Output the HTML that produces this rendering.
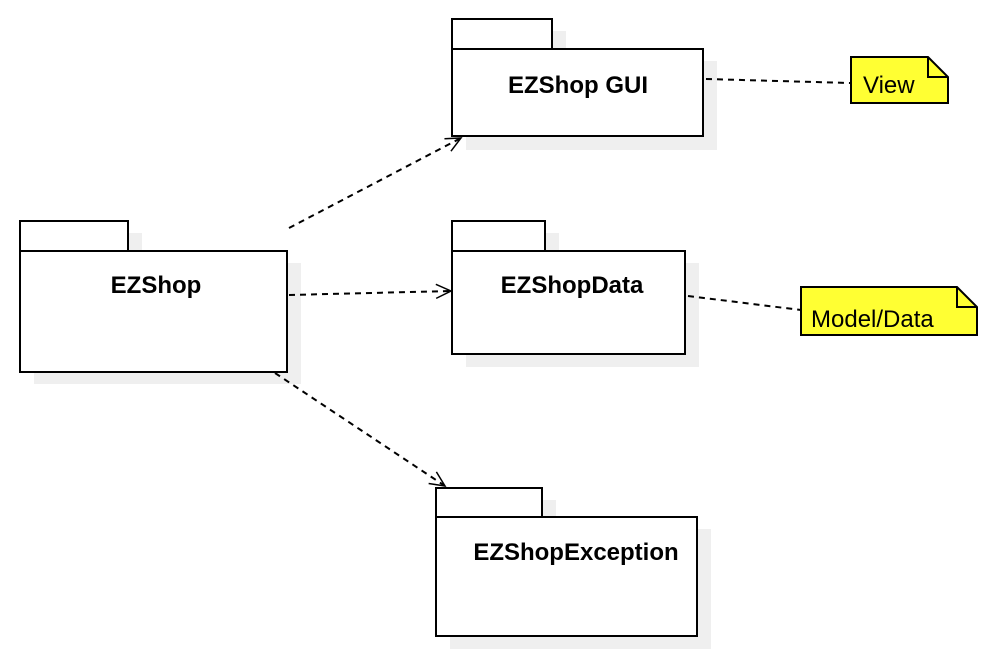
<!DOCTYPE html>
<html><head><meta charset="utf-8"><style>
html,body{margin:0;padding:0;background:#fff;}
svg{display:block;}
text{font-family:"Liberation Sans",Arial,sans-serif;}
</style></head><body>
<svg width="1000" height="658" viewBox="0 0 1000 658" xmlns="http://www.w3.org/2000/svg">
<defs>
<marker id="ar" markerWidth="20" markerHeight="20" refX="17" refY="8" orient="auto" markerUnits="userSpaceOnUse">
<path d="M2,1 L17,8 L2,15" fill="none" stroke="#000" stroke-width="1.5"/>
</marker>
</defs>
<g fill="#efefef">
<rect x="34" y="233" width="108" height="30"/><rect x="34" y="263" width="267" height="121"/>
<rect x="466" y="31" width="100" height="30"/><rect x="466" y="61" width="251" height="89"/>
<rect x="466" y="233" width="93" height="30"/><rect x="466" y="263" width="233" height="104"/>
<rect x="450" y="500" width="106" height="30"/><rect x="450" y="529" width="261" height="120"/>
</g>
<g fill="#fff" stroke="#000" stroke-width="2">
<rect x="20" y="221" width="108" height="30"/><rect x="20" y="251" width="267" height="121"/>
<rect x="452" y="19" width="100" height="30"/><rect x="452" y="49" width="251" height="87"/>
<rect x="452" y="221" width="93" height="30"/><rect x="452" y="251" width="233" height="103"/>
<rect x="436" y="488" width="106" height="29"/><rect x="436" y="517" width="261" height="119"/>
</g>
<g font-weight="bold" font-size="24" text-anchor="middle">
<text x="156" y="293">EZShop</text>
<text x="578" y="93">EZShop GUI</text>
<text x="572" y="293">EZShopData</text>
<text x="576" y="560">EZShopException</text>
</g>
<g stroke="#000" stroke-width="2" stroke-dasharray="6,5" fill="none">
<line x1="289" y1="228" x2="461" y2="138" marker-end="url(#ar)"/>
<line x1="289" y1="295" x2="451" y2="291" marker-end="url(#ar)"/>
<line x1="275" y1="373" x2="445" y2="486" marker-end="url(#ar)"/>
<line x1="706" y1="79" x2="850" y2="83"/>
<line x1="688" y1="296" x2="801" y2="310"/>
</g>
<g fill="#ffff33" stroke="#000" stroke-width="2">
<path d="M851,57 L928,57 L948,77 L948,103 L851,103 Z"/>
<path d="M928,57 L928,77 L948,77" fill="none"/>
<path d="M801,287 L957,287 L977,307 L977,335 L801,335 Z"/>
<path d="M957,287 L957,307 L977,307" fill="none"/>
</g>
<g font-size="24">
<text x="863" y="93">View</text>
<text x="811" y="327">Model/Data</text>
</g>
</svg>
</body></html>
